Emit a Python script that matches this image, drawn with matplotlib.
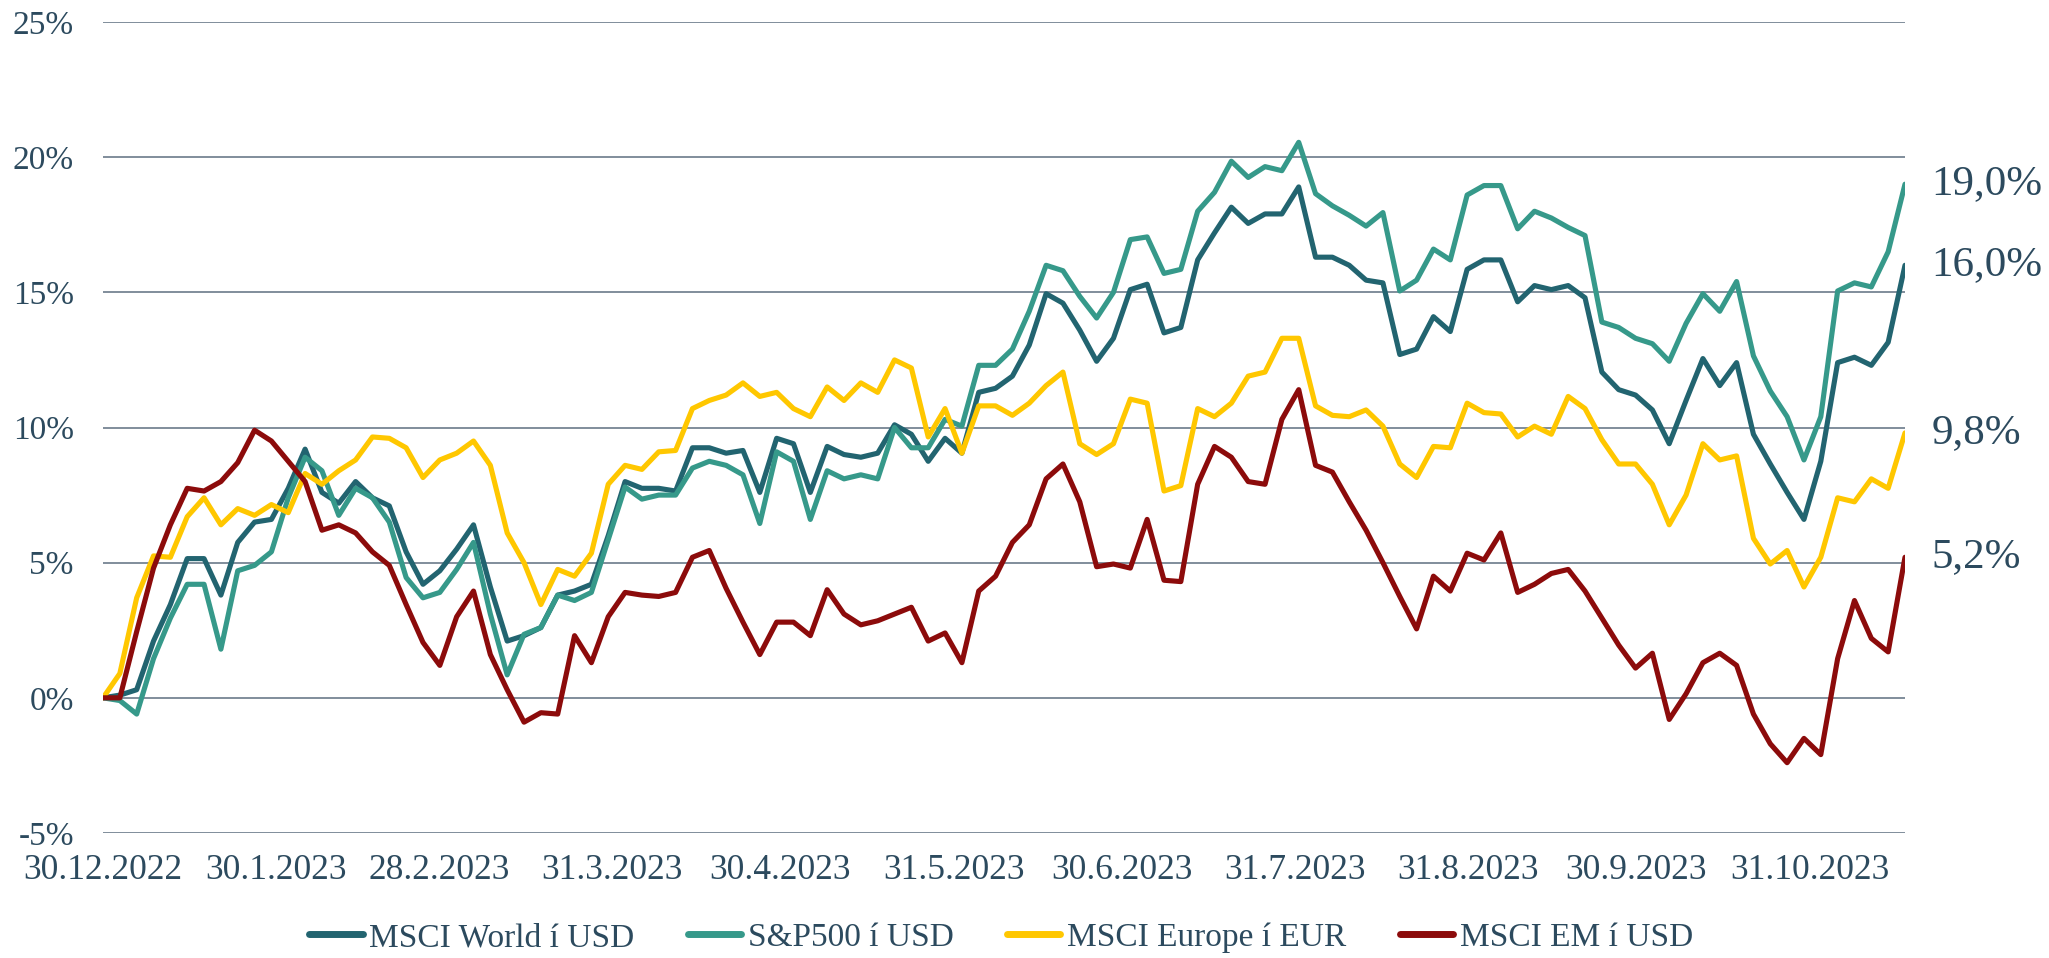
import matplotlib
matplotlib.use("Agg")
import matplotlib.pyplot as plt
import pandas as pd

plt.rcParams['font.family'] = ['Liberation Serif', 'DejaVu Serif']

# ---- data (cumulative return, %) ----
start_date = '2022-12-30'
end_date = '2023-11-17'
n_points = 108

msci_world = [0.0, 0.1, 0.3, 2.1, 3.45, 5.15, 5.15, 3.8, 5.75, 6.5, 6.6, 7.75, 9.2, 7.6, 7.2, 8.0, 7.4, 7.1, 5.4,
              4.2, 4.7, 5.5, 6.4, 4.1, 2.1, 2.3, 2.6, 3.8, 3.95, 4.2, 6.0, 8.0, 7.75, 7.75, 7.65, 9.25, 9.25,
              9.05, 9.15, 7.6, 9.6, 9.4, 7.6, 9.3, 9.0, 8.9, 9.05, 10.1, 9.75, 8.75, 9.6, 9.05, 11.3, 11.45,
              11.9, 13.05, 14.95, 14.6, 13.6, 12.45, 13.3, 15.1, 15.3, 13.5, 13.7, 16.2, 17.2, 18.15, 17.55, 17.9, 17.9, 18.9,
              16.3, 16.3, 16.0, 15.45, 15.35, 12.7, 12.9, 14.1, 13.55, 15.85, 16.2, 16.2, 14.65, 15.25, 15.1, 15.25, 14.8, 12.05,
              11.4, 11.2, 10.65, 9.4, 11.0, 12.55, 11.55, 12.4, 9.75, 8.65, 7.6, 6.6, 8.75, 12.4, 12.6, 12.3, 13.15, 16.0]

sp500 = [0.0, -0.1, -0.6, 1.45, 2.95, 4.2, 4.2, 1.8, 4.7, 4.9, 5.4, 7.4, 8.9, 8.4, 6.75, 7.75, 7.4, 6.5, 4.45,
         3.7, 3.9, 4.75, 5.75, 3.1, 0.85, 2.35, 2.6, 3.8, 3.6, 3.9, 5.85, 7.8, 7.35, 7.5, 7.5, 8.5, 8.75,
         8.6, 8.25, 6.45, 9.1, 8.75, 6.6, 8.4, 8.1, 8.25, 8.1, 10.0, 9.25, 9.25, 10.3, 10.05, 12.3, 12.3,
         12.9, 14.3, 16.0, 15.8, 14.85, 14.05, 15.0, 16.95, 17.05, 15.7, 15.85, 18.0, 18.7, 19.85, 19.25, 19.65, 19.5, 20.55,
         18.65, 18.2, 17.85, 17.45, 17.95, 15.05, 15.45, 16.6, 16.2, 18.6, 18.95, 18.95, 17.35, 18.0, 17.75, 17.4, 17.1, 13.9,
         13.7, 13.3, 13.1, 12.45, 13.85, 14.95, 14.3, 15.4, 12.65, 11.35, 10.4, 8.8, 10.4, 15.05, 15.35, 15.2, 16.5, 19.0]

msci_europe = [0.0, 0.9, 3.7, 5.25, 5.2, 6.7, 7.4, 6.4, 7.0, 6.75, 7.15, 6.85, 8.3, 7.9, 8.4, 8.8, 9.65, 9.6, 9.25,
               8.15, 8.8, 9.05, 9.5, 8.6, 6.1, 5.0, 3.45, 4.75, 4.5, 5.35, 7.9, 8.6, 8.45, 9.1, 9.15, 10.7, 11.0,
               11.2, 11.65, 11.15, 11.3, 10.7, 10.4, 11.5, 11.0, 11.65, 11.3, 12.5, 12.2, 9.65, 10.7, 9.05, 10.8, 10.8,
               10.45, 10.9, 11.55, 12.05, 9.4, 9.0, 9.4, 11.05, 10.9, 7.65, 7.85, 10.7, 10.4, 10.9, 11.9, 12.05, 13.3, 13.3,
               10.8, 10.45, 10.4, 10.65, 10.05, 8.65, 8.15, 9.3, 9.25, 10.9, 10.55, 10.5, 9.65, 10.05, 9.75, 11.15, 10.7, 9.55,
               8.65, 8.65, 7.9, 6.4, 7.5, 9.4, 8.8, 8.95, 5.9, 4.95, 5.45, 4.1, 5.2, 7.4, 7.25, 8.1, 7.75, 9.8]

msci_em = [0.0, 0.0, 2.45, 4.8, 6.4, 7.75, 7.65, 8.0, 8.7, 9.9, 9.5, 8.75, 8.0, 6.2, 6.4, 6.1, 5.4, 4.9, 3.45,
           2.05, 1.2, 3.0, 3.95, 1.6, 0.3, -0.9, -0.55, -0.6, 2.3, 1.3, 3.0, 3.9, 3.8, 3.75, 3.9, 5.2, 5.45,
           4.05, 2.8, 1.6, 2.8, 2.8, 2.3, 4.0, 3.1, 2.7, 2.85, 3.1, 3.35, 2.1, 2.4, 1.3, 3.95, 4.5,
           5.75, 6.4, 8.1, 8.65, 7.25, 4.85, 4.95, 4.8, 6.6, 4.35, 4.3, 7.9, 9.3, 8.9, 8.0, 7.9, 10.3, 11.4,
           8.6, 8.35, 7.25, 6.2, 5.0, 3.75, 2.55, 4.5, 3.95, 5.35, 5.1, 6.1, 3.9, 4.2, 4.6, 4.75, 3.95, 2.95,
           1.95, 1.1, 1.65, -0.8, 0.15, 1.3, 1.65, 1.2, -0.6, -1.7, -2.4, -1.5, -2.1, 1.45, 3.6, 2.2, 1.7, 5.2]

series_names = ['MSCI World í USD', 'S&P500 í USD', 'MSCI Europe í EUR', 'MSCI EM í USD']
series_values = [msci_world, sp500, msci_europe, msci_em]
series_colors = ['#226470', '#36998A', '#FFC700', '#8C0B0B']

tick_dates = ['2022-12-30', '2023-01-30', '2023-02-28', '2023-03-31', '2023-04-30', '2023-05-31',
              '2023-06-30', '2023-07-31', '2023-08-31', '2023-09-30', '2023-10-31']
tick_labels = ['30.12.2022', '30.1.2023', '28.2.2023', '31.3.2023', '30.4.2023', '31.5.2023',
               '30.6.2023', '31.7.2023', '31.8.2023', '30.9.2023', '31.10.2023']
y_ticks = [-5, 0, 5, 10, 15, 20, 25]

# ---- figure ----
W, H = 2049, 958
fig = plt.figure(figsize=(W / 100, H / 100), dpi=100)
ax = fig.add_axes([103 / W, 1 - 833 / H, (1905 - 103) / W, (833 - 22) / H])

dates = pd.date_range(start_date, end_date, periods=n_points)
text_color = '#2C4A5E'

lines = []
for name, vals, col in zip(series_names, series_values, series_colors):
    ln, = ax.plot(dates, vals, color=col, lw=3.7, label=name,
                  solid_joinstyle='round', solid_capstyle='round', zorder=3)
    lines.append(ln)

ax.set_xlim(dates[0], dates[-1])
ax.set_ylim(-5, 25)
ax.set_yticks(y_ticks)
ax.set_yticklabels([f"{t}%" for t in y_ticks])
ax.set_xticks(pd.to_datetime(tick_dates))
ax.set_xticklabels(tick_labels)
ax.grid(axis='y', color='#5E6F80', lw=1.1, zorder=1)
ax.grid(axis='x', visible=False)
for s in ax.spines.values():
    s.set_visible(False)
ax.tick_params(axis='both', length=0, colors=text_color)
ax.tick_params(axis='y', labelsize=24, pad=21)
ax.tick_params(axis='x', labelsize=25.5, pad=15)

# end labels
for vals in series_values:
    v = vals[-1]
    ax.annotate(f"{v:.1f}".replace('.', ',') + '%', xy=(dates[-1], v),
                xytext=(19, 0), textcoords='offset points', va='center', ha='left',
                fontsize=31, color=text_color, annotation_clip=False)

leg = fig.legend(handles=lines, labels=series_names, loc='center', bbox_to_anchor=(0.4886, 0.021),
                 ncol=4, frameon=False, handlelength=1.6, handletextpad=0.2, columnspacing=1.6,
                 fontsize=24, labelcolor=text_color)
for l in leg.get_lines():
    l.set_linewidth(5)

fig.savefig('out.png', dpi=100)
